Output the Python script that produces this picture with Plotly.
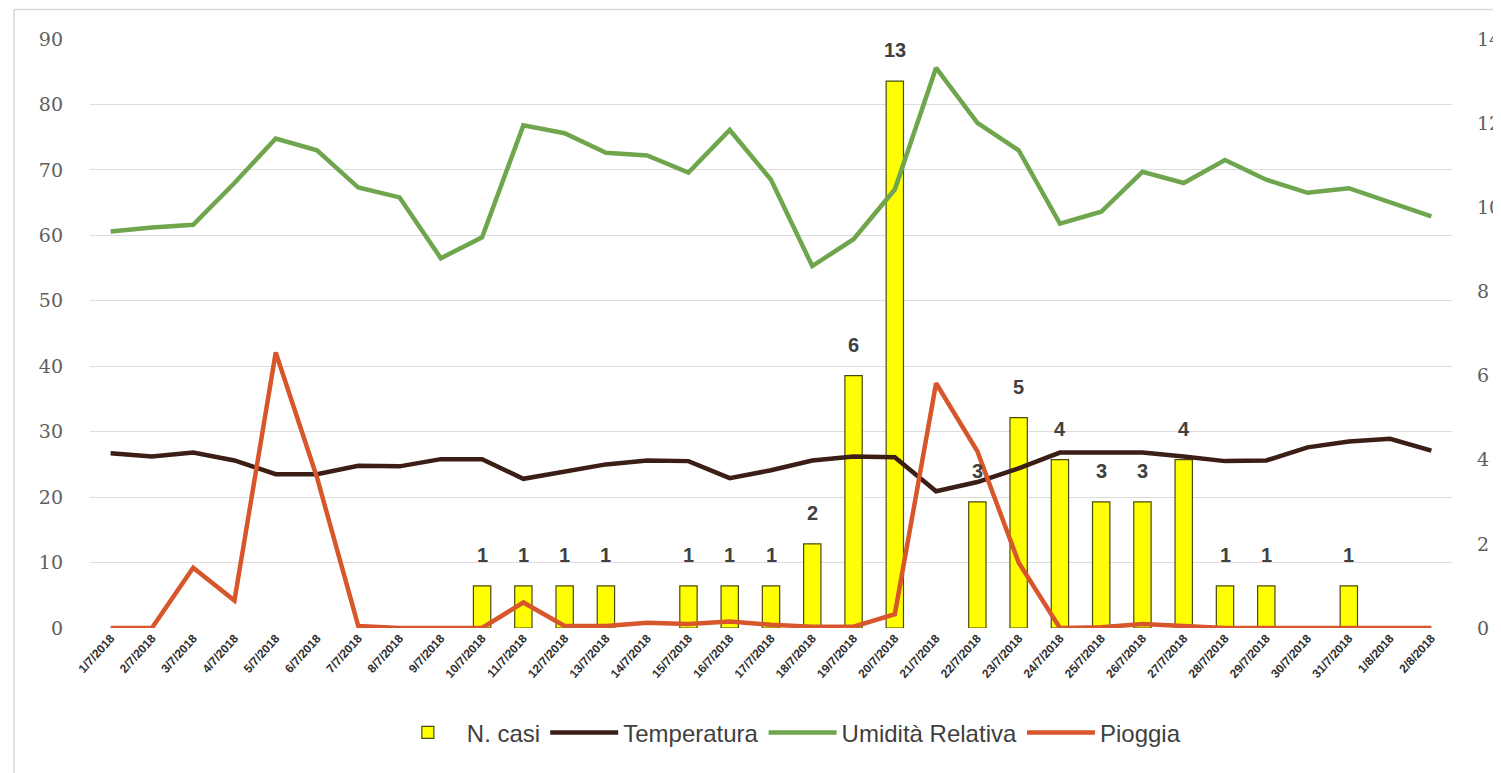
import plotly.graph_objects as go

dates = ["1/7/2018", "2/7/2018", "3/7/2018", "4/7/2018", "5/7/2018", "6/7/2018", "7/7/2018",
         "8/7/2018", "9/7/2018", "10/7/2018", "11/7/2018", "12/7/2018", "13/7/2018", "14/7/2018",
         "15/7/2018", "16/7/2018", "17/7/2018", "18/7/2018", "19/7/2018", "20/7/2018", "21/7/2018",
         "22/7/2018", "23/7/2018", "24/7/2018", "25/7/2018", "26/7/2018", "27/7/2018", "28/7/2018",
         "29/7/2018", "30/7/2018", "31/7/2018", "1/8/2018", "2/8/2018"]

casi = [None, None, None, None, None, None, None, None, None, 1, 1, 1, 1, None, 1, 1, 1, 2, 6, 13,
        None, 3, 5, 4, 3, 3, 4, 1, 1, None, 1, None, None]

temperatura = [26.7, 26.2, 26.8, 25.6, 23.5, 23.5, 24.8, 24.7, 25.8, 25.8, 22.8, 23.9, 25.0, 25.6,
               25.5, 22.9, 24.1, 25.6, 26.2, 26.1, 20.9, 22.3, 24.4, 26.8, 26.8, 26.8, 26.2, 25.5,
               25.6, 27.6, 28.5, 28.9, 27.1]

umidita = [60.6, 61.2, 61.6, 68.0, 74.8, 73.0, 67.3, 65.8, 56.5, 59.7, 76.8, 75.6, 72.6, 72.2,
           69.6, 76.1, 68.5, 55.3, 59.4, 67.0, 85.6, 77.2, 73.0, 61.8, 63.6, 69.7, 68.0, 71.5,
           68.5, 66.5, 67.2, 65.0, 62.9]

pioggia = [0, 0, 9.2, 4.2, 42.1, 23.0, 0.3, 0, 0, 0, 3.9, 0.3, 0.3, 0.8, 0.6, 1.0, 0.5, 0.2, 0.2,
           2.1, 37.4, 27.0, 10.0, 0, 0.1, 0.6, 0.3, 0, 0, 0, 0, 0, 0]

left_ticks = [0, 10, 20, 30, 40, 50, 60, 70, 80, 90]
right_ticks = [0, 2, 4, 6, 8, 10, 12, 14]

fig = go.Figure()

fig.add_trace(go.Bar(
    x=dates, y=casi, name="N. casi", yaxis="y",
    marker=dict(color="#FFFF00", line=dict(color="#4a4a10", width=1.2)),
    width=0.42,
))
fig.add_trace(go.Scatter(x=dates, y=temperatura, name="Temperatura", yaxis="y2", mode="lines",
                         line=dict(color="#3B1E16", width=4.5)))
fig.add_trace(go.Scatter(x=dates, y=umidita, name="Umidità Relativa", yaxis="y2", mode="lines",
                         line=dict(color="#6FA64D", width=4.5)))
fig.add_trace(go.Scatter(x=dates, y=pioggia, name="Pioggia", yaxis="y2", mode="lines",
                         line=dict(color="#D8562B", width=4.5)))

# data labels above bars
for d, v in zip(dates, casi):
    if v is None:
        continue
    fig.add_annotation(x=d, y=v, xref="x", yref="y", text=str(v), showarrow=False,
                       yanchor="middle", yshift=31,
                       font=dict(family="Liberation Sans, Arial", size=20, color="#404040",
                                 weight="bold"))

tickfont_num = dict(family="DejaVu Serif, Liberation Serif", size=19, color="#5e5e5e")

fig.update_layout(
    width=1493, height=765,
    margin=dict(l=82, r=49, t=31, b=145),
    paper_bgcolor="white", plot_bgcolor="white",
    xaxis=dict(type="category", tickangle=-48, showgrid=False, showline=False, ticks="",
               automargin=False,
               tickfont=dict(family="Liberation Sans Narrow, Liberation Sans", size=12,
                             color="#2e2e2e", weight="bold")),
    yaxis=dict(range=[0, 14], side="right", tickvals=right_ticks, showgrid=False,
               zeroline=False, showline=False, ticks="", tickfont=tickfont_num,
               ticklabelstandoff=24, automargin=False),
    yaxis2=dict(range=[0, 90], side="left", overlaying="y", tickvals=left_ticks,
                showgrid=True, gridcolor="#dcdcdc", gridwidth=1.2, zeroline=False,
                showline=False, ticks="", tickfont=tickfont_num, ticklabelstandoff=26,
                automargin=False),
    legend=dict(orientation="h", x=0.512, xanchor="center", y=-0.178, yanchor="middle",
                font=dict(family="Liberation Sans Narrow, Liberation Sans", size=24,
                          color="#404040"),
                itemwidth=68, tracegroupgap=0),
    showlegend=True,
    shapes=[
        dict(type="line", xref="paper", yref="paper", x0=-0.0558, x1=1.04, y0=1.05, y1=1.05,
             line=dict(color="#d9d9d9", width=1.5)),
        dict(type="line", xref="paper", yref="paper", x0=-0.0558, x1=-0.0558, y0=-0.25, y1=1.05,
             line=dict(color="#d9d9d9", width=1.5)),
    ],
)

fig.write_html("out.html")
